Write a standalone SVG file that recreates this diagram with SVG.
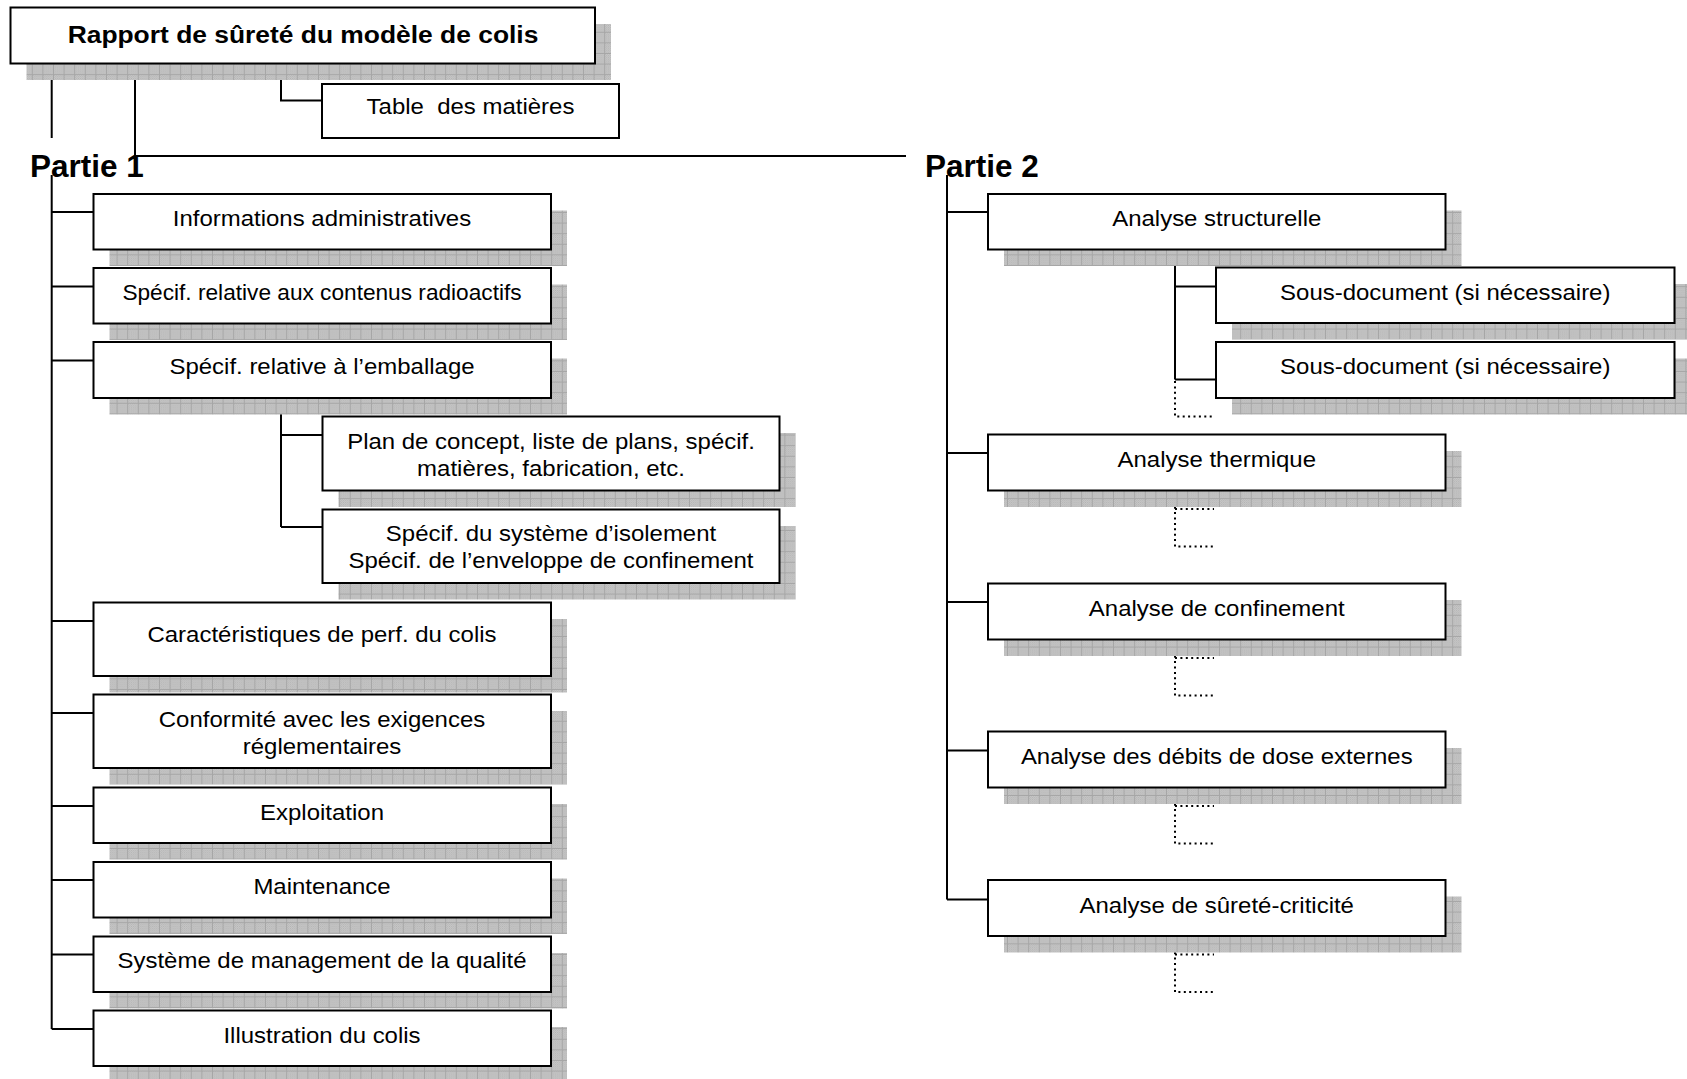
<svg xmlns="http://www.w3.org/2000/svg" width="1687" height="1079" viewBox="0 0 1687 1079">
<style>
.box{fill:#fff;stroke:#000;stroke-width:2}
.sh{fill:url(#grid);stroke:none}
.t{font-family:"Liberation Sans",Arial,sans-serif;font-size:22px;text-anchor:middle;fill:#000}
.tb{font-family:"Liberation Sans",Arial,sans-serif;font-size:24px;font-weight:bold;text-anchor:middle;fill:#000}
.part{font-family:"Liberation Sans",Arial,sans-serif;font-size:31.5px;font-weight:bold;fill:#000}
.ln{stroke:#000;stroke-width:2;fill:none}
.dot{stroke:#000;stroke-width:2;stroke-dasharray:2 3.4;fill:none}
</style>
<defs>
<pattern id="chk" width="2" height="2" patternUnits="userSpaceOnUse">
<rect width="2" height="2" fill="#cdcdcd"/>
<rect width="1" height="1" fill="#b3b3b3"/>
<rect x="1" y="1" width="1" height="1" fill="#b3b3b3"/>
</pattern>
<pattern id="grid" width="10.6" height="10.6" patternUnits="userSpaceOnUse">
<rect width="10.6" height="10.6" fill="url(#chk)"/>
<path d="M0 0.5H10.6M0.5 0V10.6" stroke="#a6a6a6" stroke-width="1"/>
</pattern>
</defs>
<rect width="1687" height="1079" fill="#fff"/>

<g id="connectors">
<path class="ln" d="M51.7 63.5V138"/>
<path class="ln" d="M135 63.5V156H906"/>
<path class="ln" d="M281 63.5V100.5H322"/>
<path class="ln" d="M51.7 175V1029"/>
<path class="ln" d="M51.7 212H93.5M51.7 286.5H93.5M51.7 360.5H93.5M51.7 621H93.5M51.7 713H93.5M51.7 806H93.5M51.7 880H93.5M51.7 954.5H93.5M51.7 1029H93.5"/>
<path class="ln" d="M281 398V527M281 435H322.5M281 527H322.5"/>
<path class="ln" d="M947 175V899.5"/>
<path class="ln" d="M947 212H988M947 453H988M947 602H988M947 750.5H988M947 899.5H988"/>
<path class="ln" d="M1175 249.5V379.5M1175 286.5H1216M1175 379.5H1216"/>
<path class="dot" d="M1175 381V416.5H1214"/>
<path class="dot" d="M1175 490.5V546.5H1214M1175 509H1214"/>
<path class="dot" d="M1175 639.5V695.5H1214M1175 658H1214"/>
<path class="dot" d="M1175 787.5V843.5H1214M1175 806H1214"/>
<path class="dot" d="M1175 936V992H1214M1175 954.5H1214"/>
</g>

<g id="title">
<rect class="sh" x="26.5" y="24" width="584.5" height="56"/>
<rect class="box" x="10.5" y="7.5" width="584.5" height="56"/>
<text class="tb" transform="translate(303 42.5) scale(1.1 1)">Rapport de sûreté du modèle de colis</text>
</g>
<g id="toc">
<rect class="box" x="322" y="84" width="297" height="54"/>
<text class="t" xml:space="preserve" transform="translate(470.5 113.5) scale(1.09 1)">Table  des matières</text>
</g>

<g id="partie1"><text class="part" x="30" y="177">Partie 1</text></g>
<g id="partie2"><text class="part" x="925" y="177">Partie 2</text></g>

<g id="p1-info">
<rect class="sh" x="109.5" y="210.5" width="457.5" height="55.5"/>
<rect class="box" x="93.5" y="194" width="457.5" height="55.5"/>
<text class="t" transform="translate(322 226) scale(1.09 1)">Informations administratives</text>
</g>
<g id="p1-contenus">
<rect class="sh" x="109.5" y="284.5" width="457.5" height="55.5"/>
<rect class="box" x="93.5" y="268" width="457.5" height="55.5"/>
<text class="t" transform="translate(322 300) scale(1.03 1)">Spécif. relative aux contenus radioactifs</text>
</g>
<g id="p1-emballage">
<rect class="sh" x="109.5" y="358.5" width="457.5" height="56"/>
<rect class="box" x="93.5" y="342" width="457.5" height="56"/>
<text class="t" transform="translate(322 374) scale(1.09 1)">Spécif. relative à l’emballage</text>
</g>
<g id="p1-plan">
<rect class="sh" x="338.5" y="433" width="457" height="74"/>
<rect class="box" x="322.5" y="416.5" width="457" height="74"/>
<text class="t" transform="translate(551 449) scale(1.09 1)">Plan de concept, liste de plans, spécif.</text>
<text class="t" transform="translate(551 476) scale(1.09 1)">matières, fabrication, etc.</text>
</g>
<g id="p1-isolement">
<rect class="sh" x="338.5" y="526" width="457" height="73.5"/>
<rect class="box" x="322.5" y="509.5" width="457" height="73.5"/>
<text class="t" transform="translate(551 541) scale(1.09 1)">Spécif. du système d’isolement</text>
<text class="t" transform="translate(551 568) scale(1.09 1)">Spécif. de l’enveloppe de confinement</text>
</g>
<g id="p1-perf">
<rect class="sh" x="109.5" y="619" width="457.5" height="73.5"/>
<rect class="box" x="93.5" y="602.5" width="457.5" height="73.5"/>
<text class="t" transform="translate(322 642) scale(1.09 1)">Caractéristiques de perf. du colis</text>
</g>
<g id="p1-conformite">
<rect class="sh" x="109.5" y="711" width="457.5" height="73.5"/>
<rect class="box" x="93.5" y="694.5" width="457.5" height="73.5"/>
<text class="t" transform="translate(322 727) scale(1.09 1)">Conformité avec les exigences</text>
<text class="t" transform="translate(322 754) scale(1.09 1)">réglementaires</text>
</g>
<g id="p1-exploitation">
<rect class="sh" x="109.5" y="804" width="457.5" height="55.5"/>
<rect class="box" x="93.5" y="787.5" width="457.5" height="55.5"/>
<text class="t" transform="translate(322 819.5) scale(1.09 1)">Exploitation</text>
</g>
<g id="p1-maintenance">
<rect class="sh" x="109.5" y="878.5" width="457.5" height="55.5"/>
<rect class="box" x="93.5" y="862" width="457.5" height="55.5"/>
<text class="t" transform="translate(322 894) scale(1.09 1)">Maintenance</text>
</g>
<g id="p1-qualite">
<rect class="sh" x="109.5" y="953" width="457.5" height="55.5"/>
<rect class="box" x="93.5" y="936.5" width="457.5" height="55.5"/>
<text class="t" transform="translate(322 968) scale(1.09 1)">Système de management de la qualité</text>
</g>
<g id="p1-illustration">
<rect class="sh" x="109.5" y="1027" width="457.5" height="55.5"/>
<rect class="box" x="93.5" y="1010.5" width="457.5" height="55.5"/>
<text class="t" transform="translate(322 1042.5) scale(1.09 1)">Illustration du colis</text>
</g>

<g id="p2-structurelle">
<rect class="sh" x="1004" y="210.5" width="457.5" height="55.5"/>
<rect class="box" x="988" y="194" width="457.5" height="55.5"/>
<text class="t" transform="translate(1216.75 226) scale(1.09 1)">Analyse structurelle</text>
</g>
<g id="p2-sousdoc1">
<rect class="sh" x="1232" y="284" width="458.5" height="55.5"/>
<rect class="box" x="1216" y="267.5" width="458.5" height="55.5"/>
<text class="t" transform="translate(1445.25 299.5) scale(1.09 1)">Sous-document (si nécessaire)</text>
</g>
<g id="p2-sousdoc2">
<rect class="sh" x="1232" y="358.5" width="458.5" height="56"/>
<rect class="box" x="1216" y="342" width="458.5" height="56"/>
<text class="t" transform="translate(1445.25 374) scale(1.09 1)">Sous-document (si nécessaire)</text>
</g>
<g id="p2-thermique">
<rect class="sh" x="1004" y="451" width="457.5" height="56"/>
<rect class="box" x="988" y="434.5" width="457.5" height="56"/>
<text class="t" transform="translate(1216.75 467) scale(1.09 1)">Analyse thermique</text>
</g>
<g id="p2-confinement">
<rect class="sh" x="1004" y="600" width="457.5" height="56"/>
<rect class="box" x="988" y="583.5" width="457.5" height="56"/>
<text class="t" transform="translate(1216.75 616) scale(1.09 1)">Analyse de confinement</text>
</g>
<g id="p2-dose">
<rect class="sh" x="1004" y="748" width="457.5" height="56"/>
<rect class="box" x="988" y="731.5" width="457.5" height="56"/>
<text class="t" transform="translate(1216.75 764) scale(1.09 1)">Analyse des débits de dose externes</text>
</g>
<g id="p2-criticite">
<rect class="sh" x="1004" y="896.5" width="457.5" height="56"/>
<rect class="box" x="988" y="880" width="457.5" height="56"/>
<text class="t" transform="translate(1216.75 912.5) scale(1.09 1)">Analyse de sûreté-criticité</text>
</g>
</svg>
